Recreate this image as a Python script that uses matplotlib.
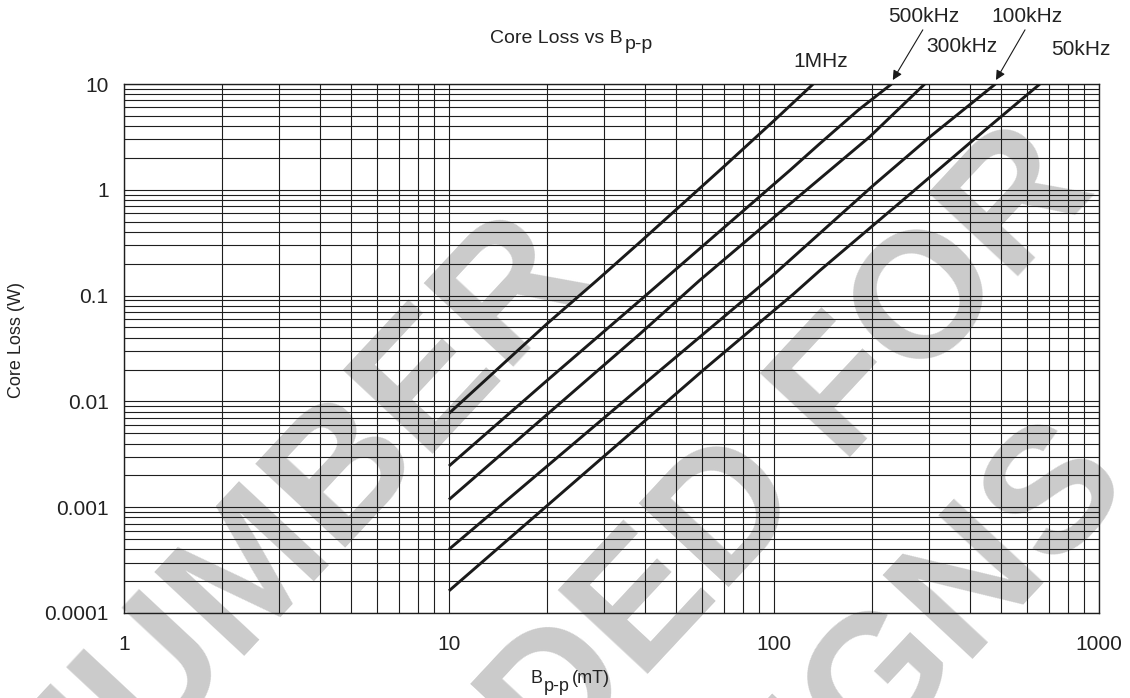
import numpy as np
import matplotlib.pyplot as plt
from matplotlib.ticker import LogLocator, NullFormatter
from matplotlib import font_manager

# curves: B p-p (mT) vs core loss (W)
b_1mhz = [10, 20, 28.5, 38.7, 70, 100, 132]
loss_1mhz = [0.0077, 0.054, 0.139, 0.32, 1.65, 4.5, 10]
b_500k = [10, 20, 38.7, 112, 138.5, 181.7, 230]
loss_500k = [0.00245, 0.0157, 0.090, 1.53, 2.74, 5.67, 10]
b_300k = [10, 38.7, 59, 100, 197, 291]
loss_300k = [0.00118, 0.0435, 0.139, 0.55, 3.17, 10]
b_100k = [10, 44.6, 98, 202, 302, 480]
loss_100k = [0.0004, 0.0196, 0.15, 1.1, 3.17, 10]
b_50k = [10, 62, 115, 138.5, 256, 410, 658]
loss_50k = [0.000162, 0.021, 0.104, 0.173, 0.857, 2.95, 10]

x_ticks = [1, 10, 100, 1000]
x_ticklabels = ["1", "10", "100", "1000"]
y_ticks = [0.0001, 0.001, 0.01, 0.1, 1, 10]
y_ticklabels = ["0.0001", "0.001", "0.01", "0.1", "1", "10"]

watermark = ["OBSOLETE PART NUMBER", "PROVIDED FOR", "EXISTING DESIGNS"]

plt.rcParams['font.family'] = ['Liberation Sans', 'DejaVu Sans']

# condensed face for the watermark if there is one
names = {f.name for f in font_manager.fontManager.ttflist}
wm_family = 'Liberation Sans Narrow' if 'Liberation Sans Narrow' in names else 'Liberation Sans'
wm_size = 140 if wm_family == 'Liberation Sans Narrow' else 128

W, H = 1130, 698
fig = plt.figure(figsize=(W / 100, H / 100), dpi=100)
ax = fig.add_axes([124 / W, 1 - 613 / H, (1099 - 124) / W, (613 - 84) / H])
ax.patch.set_facecolor('none')

# grey watermark behind the grid
wm_pos = [(560, 250), (1065, 160), (1100, 455)]
for txt, (px, py) in zip(watermark, wm_pos):
    fig.text(px / W, 1 - py / H, txt, rotation=47, rotation_mode='anchor',
             ha='right', va='center', fontsize=wm_size, fontweight='bold',
             family=wm_family, color='#cbcbcb', zorder=-1)

ax.set_xscale('log')
ax.set_yscale('log')
ax.set_xlim(1, 1000)
ax.set_ylim(1e-4, 10)
ax.set_xticks(x_ticks, x_ticklabels)
ax.set_yticks(y_ticks, y_ticklabels)
for axis in (ax.xaxis, ax.yaxis):
    axis.set_minor_locator(LogLocator(base=10, subs=np.arange(2, 10)))
    axis.set_minor_formatter(NullFormatter())
ax.grid(which='both', color='#1e1e1e', lw=0.8)
ax.set_axisbelow(True)
ax.tick_params(which='both', length=0)
ax.tick_params(axis='x', pad=16, labelsize=15, colors='#222222')
ax.tick_params(axis='y', pad=11, labelsize=15, colors='#222222')
for s in ax.spines.values():
    s.set_color('#1e1e1e')
    s.set_linewidth(1)

for bx, ly in [(b_1mhz, loss_1mhz), (b_500k, loss_500k), (b_300k, loss_300k),
               (b_100k, loss_100k), (b_50k, loss_50k)]:
    ax.plot(bx, ly, color='#1a1a1a', lw=2.1, solid_capstyle='butt', zorder=3)

# frequency labels above the plot
lbl = dict(fontsize=15, color='#222222', ha='center', va='center',
           annotation_clip=False)
ax.annotate("1MHz", xy=(139.6, 16.2), **lbl)
ax.annotate("500kHz", xy=(289, 43), **lbl)
ax.annotate("300kHz", xy=(379, 22.4), **lbl)
ax.annotate("100kHz", xy=(600, 43), **lbl)
ax.annotate("50kHz", xy=(880, 21), **lbl)
arrow = dict(arrowstyle='-|>', color='#1a1a1a', lw=0.8, mutation_scale=14,
             shrinkA=0, shrinkB=0)
ax.annotate("", xy=(232, 10.9), xytext=(287, 32.5), arrowprops=arrow,
            annotation_clip=False)
ax.annotate("", xy=(482, 10.9), xytext=(592, 32.5), arrowprops=arrow,
            annotation_clip=False)

# texts with subscripts
r = fig.canvas.get_renderer()


def sub_text(x, y, parts, size):
    # parts: (text, baseline drop in px)
    for txt, drop in parts:
        t = fig.text(x / W, 1 - (y + drop) / H, txt, fontsize=size,
                     va='baseline', color='#222222')
        x = t.get_window_extent(r).x1 + 2


sub_text(490, 43, [("Core Loss vs B", 0), ("p-p", 6)], 14)
sub_text(530, 683, [("B", 0), ("p-p", 8), ("(mT)", 0)], 13)

fig.text(17 / W, 1 - 340 / H, "Core Loss (W)", rotation=90, fontsize=13,
         ha='center', va='center', color='#222222')

fig.savefig('out.png', dpi=100)
